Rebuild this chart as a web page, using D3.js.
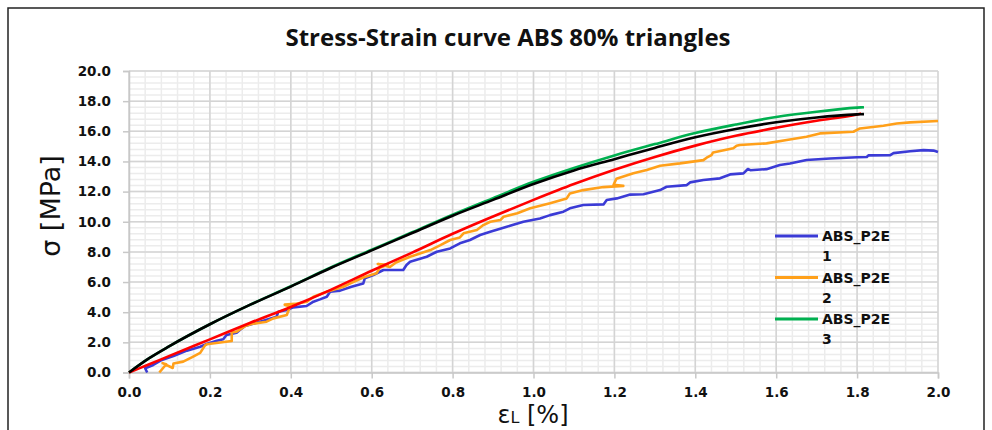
<!DOCTYPE html>
<html>
<head>
<meta charset="utf-8">
<script src="https://cdn.jsdelivr.net/npm/d3@7"></script>
<style>
  body { margin: 0; background: #fff; }
  svg { display: block; }
</style>
</head>
<body>
<svg id="chart"></svg>
<script>
// strain [%], stress [MPa] pairs
let p2e1 = [
  [0.045, 0], [0.04, 0.28], [0.06, 0.5], [0.081, 0.83], [0.11, 1.09], [0.143, 1.45],
  [0.176, 1.71], [0.192, 1.89], [0.217, 2.11], [0.233, 2.2], [0.241, 2.49], [0.266, 2.64],
  [0.274, 2.82], [0.287, 3.08], [0.324, 3.37], [0.365, 3.7], [0.369, 4.03], [0.39, 4.14],
  [0.406, 4.32], [0.439, 4.41], [0.456, 4.7], [0.472, 4.85], [0.489, 5.03], [0.497, 5.36],
  [0.522, 5.43], [0.55, 5.69], [0.579, 5.9], [0.583, 6.25], [0.604, 6.47], [0.629, 6.8],
  [0.678, 6.8], [0.686, 7.13], [0.695, 7.35], [0.736, 7.68], [0.761, 8.01], [0.794, 8.23],
  [0.818, 8.57], [0.843, 8.79], [0.868, 9.12], [0.893, 9.34], [0.934, 9.67], [0.975, 10.0],
  [1.016, 10.22], [1.041, 10.44], [1.074, 10.67], [1.09, 10.89], [1.123, 11.11], [1.173, 11.15],
  [1.181, 11.44], [1.206, 11.55], [1.239, 11.8], [1.272, 11.82], [1.313, 12.1], [1.329, 12.32],
  [1.379, 12.43], [1.387, 12.61], [1.42, 12.77], [1.461, 12.88], [1.486, 13.14], [1.519, 13.21],
  [1.53, 13.5], [1.536, 13.42], [1.576, 13.49], [1.609, 13.76], [1.634, 13.87], [1.675, 14.1],
  [1.733, 14.2], [1.8, 14.28], [1.824, 14.3], [1.828, 14.4], [1.882, 14.42], [1.89, 14.55],
  [1.931, 14.68], [1.964, 14.75], [1.989, 14.72], [2.0, 14.62]
];
let p2e2 = [
  [0.075, 0], [0.092, 0.55], [0.083, 0.62], [0.108, 0.3], [0.11, 0.6], [0.134, 0.72],
  [0.155, 1.0], [0.176, 1.3], [0.188, 1.8], [0.192, 1.87], [0.254, 2.09], [0.254, 2.65],
  [0.266, 2.71], [0.287, 3.08], [0.303, 3.22], [0.34, 3.37], [0.357, 3.59], [0.39, 3.81],
  [0.398, 4.37], [0.385, 4.5], [0.41, 4.55], [0.44, 4.7], [0.456, 5.03], [0.489, 5.36],
  [0.53, 5.69], [0.546, 5.9], [0.579, 6.3], [0.612, 6.58], [0.62, 6.95], [0.64, 7.15],
  [0.615, 7.2], [0.645, 7.0], [0.66, 7.3], [0.695, 7.68], [0.745, 8.12], [0.77, 8.45],
  [0.794, 8.79], [0.818, 8.96], [0.827, 9.23], [0.86, 9.45], [0.876, 9.78], [0.893, 10.0],
  [0.918, 10.11], [0.926, 10.33], [0.96, 10.56], [0.992, 10.89], [1.041, 11.22], [1.082, 11.55],
  [1.09, 11.88], [1.123, 12.1], [1.173, 12.3], [1.222, 12.38], [1.198, 12.45], [1.205, 12.85],
  [1.247, 13.21], [1.28, 13.43], [1.313, 13.72], [1.362, 13.87], [1.42, 14.09], [1.428, 14.25],
  [1.44, 14.42], [1.444, 14.6], [1.494, 14.87], [1.502, 15.04], [1.51, 15.09], [1.576, 15.2],
  [1.626, 15.42], [1.675, 15.64], [1.708, 15.86], [1.791, 15.97], [1.807, 16.19], [1.865, 16.37],
  [1.898, 16.52], [1.931, 16.59], [2.0, 16.68]
];
let p2e3 = [
  [0, 0], [0.05, 0.95], [0.1, 1.75], [0.2, 3.2], [0.3, 4.5], [0.4, 5.72], [0.5, 6.98],
  [0.6, 8.14], [0.7, 9.3], [0.8, 10.47], [0.9, 11.57], [1.0, 12.65], [1.1, 13.57],
  [1.2, 14.4], [1.3, 15.15], [1.4, 15.88], [1.5, 16.45], [1.6, 16.95], [1.7, 17.3],
  [1.8, 17.57], [1.817, 17.6]
];
let seriesRed = [
  [0, 0], [0.05, 0.55], [0.1, 1.1], [0.2, 2.2], [0.3, 3.3], [0.4, 4.35], [0.5, 5.5],
  [0.6, 6.75], [0.7, 7.95], [0.8, 9.2], [0.9, 10.35], [1.0, 11.45], [1.1, 12.5],
  [1.2, 13.45], [1.3, 14.3], [1.4, 15.05], [1.5, 15.7], [1.6, 16.23], [1.7, 16.7],
  [1.8, 17.12], [1.81, 17.18]
];
let seriesBlack = [
  [0, 0], [0.05, 0.95], [0.1, 1.75], [0.2, 3.2], [0.3, 4.5], [0.4, 5.7], [0.5, 6.95],
  [0.6, 8.1], [0.7, 9.25], [0.8, 10.4], [0.9, 11.45], [1.0, 12.5], [1.1, 13.4],
  [1.2, 14.15], [1.3, 14.9], [1.4, 15.6], [1.5, 16.15], [1.6, 16.6], [1.7, 16.92],
  [1.8, 17.12], [1.817, 17.14]
];

let xTicks = [0, 0.2, 0.4, 0.6, 0.8, 1.0, 1.2, 1.4, 1.6, 1.8, 2.0];
let yTicks = [0, 2, 4, 6, 8, 10, 12, 14, 16, 18, 20];
let legendNames = ["ABS_P2E 1", "ABS_P2E 2", "ABS_P2E 3"];

let width = 992;
let height = 430;
let plotLeft = 129, plotRight = 938, plotTop = 71, plotBottom = 372.5;

let svg = d3.select("#chart").attr("width", width).attr("height", height);

// outer frame of the chart
svg.append("path")
  .attr("d", "M8,440 L8,8 L984,8 L984,440")
  .attr("fill", "none")
  .attr("stroke", "#222")
  .attr("stroke-width", 1.5);

let xScale = d3.scaleLinear().domain([0, 2]).range([plotLeft, plotRight]);
let yScale = d3.scaleLinear().domain([0, 20]).range([plotBottom, plotTop]);

// minor grid
let grid = svg.append("g");
grid.selectAll(".vminor")
  .data(d3.range(0, 2.0001, 0.04))
  .enter().append("line")
  .attr("x1", (d) => xScale(d)).attr("x2", (d) => xScale(d))
  .attr("y1", plotTop).attr("y2", plotBottom)
  .attr("stroke", "#ececec").attr("stroke-width", 1.5);
grid.selectAll(".hminor")
  .data(d3.range(0, 20.001, 0.4))
  .enter().append("line")
  .attr("y1", (d) => yScale(d)).attr("y2", (d) => yScale(d))
  .attr("x1", plotLeft).attr("x2", plotRight)
  .attr("stroke", "#ececec").attr("stroke-width", 1.5);
// major grid
grid.selectAll(".vmajor")
  .data(xTicks)
  .enter().append("line")
  .attr("x1", (d) => xScale(d)).attr("x2", (d) => xScale(d))
  .attr("y1", plotTop).attr("y2", plotBottom)
  .attr("stroke", "#d4d4d4").attr("stroke-width", 1.5);
grid.selectAll(".hmajor")
  .data(yTicks)
  .enter().append("line")
  .attr("y1", (d) => yScale(d)).attr("y2", (d) => yScale(d))
  .attr("x1", plotLeft).attr("x2", plotRight)
  .attr("stroke", "#d4d4d4").attr("stroke-width", 1.5);

// axes
let xAxis = d3.axisBottom(xScale).tickValues(xTicks).tickFormat(d3.format(".1f"))
  .tickSize(6).tickPadding(9);
let yAxis = d3.axisLeft(yScale).tickValues(yTicks).tickFormat(d3.format(".1f"))
  .tickSize(6).tickPadding(12);

let gx = svg.append("g")
  .attr("transform", "translate(0," + plotBottom + ")")
  .call(xAxis);
let gy = svg.append("g")
  .attr("transform", "translate(" + plotLeft + ",0)")
  .call(yAxis);
[gx, gy].forEach((g) => {
  g.select(".domain").attr("stroke", "#c8c8c8").attr("stroke-width", 1.5);
  g.selectAll(".tick line").attr("stroke", "#c8c8c8").attr("stroke-width", 1.5);
  g.selectAll(".tick text")
    .attr("fill", "#111")
    .style("font-family", "DejaVu Sans, Verdana, sans-serif")
    .style("font-weight", "bold")
    .style("font-size", "13.5px");
});

// curves: the measured ones are jagged, the fitted ones are smooth
let jagged = d3.line().x((d) => xScale(d[0])).y((d) => yScale(d[1]));
let smooth = d3.line().curve(d3.curveMonotoneX).x((d) => xScale(d[0])).y((d) => yScale(d[1]));
let curves = [
  { data: p2e1, color: "#3b3bd6", gen: jagged },
  { data: p2e2, color: "#ffa01a", gen: jagged },
  { data: p2e3, color: "#00b050", gen: smooth },
  { data: seriesRed, color: "#ff0000", gen: smooth },
  { data: seriesBlack, color: "#000000", gen: smooth }
];
svg.append("g").selectAll("path")
  .data(curves)
  .enter().append("path")
  .attr("d", (c) => c.gen(c.data))
  .attr("fill", "none")
  .attr("stroke", (c) => c.color)
  .attr("stroke-width", 2.6)
  .attr("stroke-linejoin", "round");

// legend
let legend = svg.append("g");
let items = legend.selectAll("g")
  .data(legendNames)
  .enter().append("g")
  .attr("transform", (d, i) => "translate(775," + (236 + i * 41.5) + ")");
items.append("line")
  .attr("x1", 0).attr("x2", 43)
  .attr("stroke", (d, i) => curves[i].color)
  .attr("stroke-width", 3);
items.append("text")
  .attr("x", 47)
  .attr("y", 5)
  .style("font-family", "DejaVu Sans, Verdana, sans-serif")
  .style("font-weight", "bold")
  .style("font-size", "14px")
  .attr("fill", "#111")
  .selectAll("tspan")
  .data((d) => d.split(" "))
  .enter().append("tspan")
  .attr("x", 47)
  .attr("dy", (d, i) => (i === 0 ? 0 : 20))
  .text((d) => d);

// title
svg.append("text")
  .attr("x", 508)
  .attr("y", 46)
  .attr("text-anchor", "middle")
  .style("font-family", "Open Sans, sans-serif")
  .style("font-weight", "bold")
  .style("font-size", "24px")
  .attr("fill", "#111")
  .text("Stress-Strain curve ABS 80% triangles");

// axis titles
svg.append("text")
  .attr("transform", "translate(60,206) rotate(-90)")
  .attr("text-anchor", "middle")
  .style("font-family", "DejaVu Sans, Verdana, sans-serif")
  .style("font-size", "27px")
  .attr("fill", "#111")
  .text("σ [MPa]");

let xt = svg.append("text")
  .attr("x", 533)
  .attr("y", 423)
  .attr("text-anchor", "middle")
  .style("font-family", "DejaVu Sans, Verdana, sans-serif")
  .style("font-size", "24px")
  .attr("fill", "#111");
xt.append("tspan").text("ε");
xt.append("tspan").style("font-size", "16px").text("L");
xt.append("tspan").text(" [%]");
</script>
</body>
</html>
